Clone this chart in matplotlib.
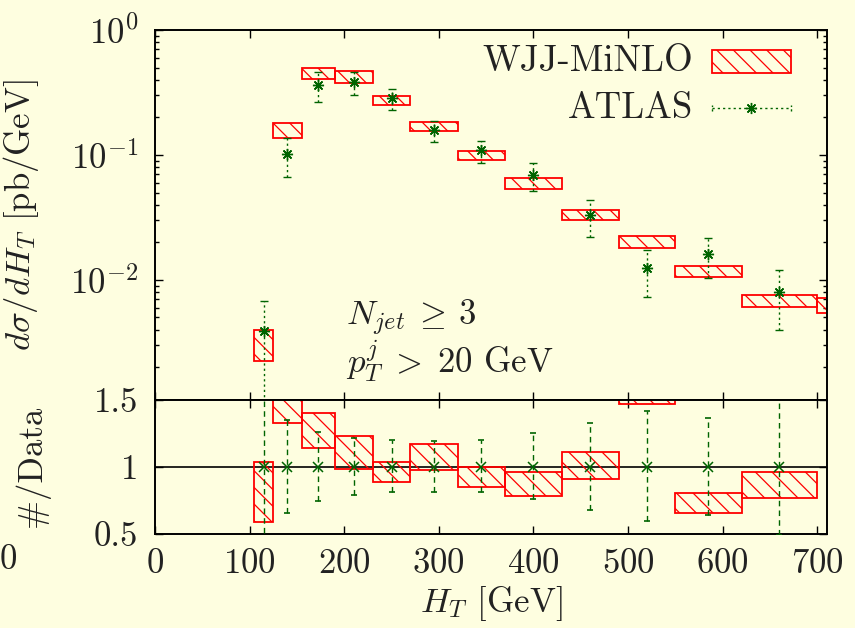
import numpy as np
import matplotlib
matplotlib.use("Agg")
import matplotlib.pyplot as plt
from matplotlib.ticker import FixedLocator, LogLocator, NullFormatter

plt.rcParams['font.family'] = ['cmr10', 'DejaVu Serif']
plt.rcParams['mathtext.fontset'] = 'cm'
plt.rcParams['axes.formatter.use_mathtext'] = True
plt.rcParams['hatch.linewidth'] = 0.9

# bin edges in H_T [GeV]
edges = [105, 125, 155, 190, 230, 270, 320, 370, 430, 490, 550, 620, 700, 800]

# WJJ-MiNLO band, pb/GeV
minlo_lo = [2.25e-3, 0.136, 0.407, 0.378, 0.250, 0.155, 0.0907, 0.0537, 0.0299, 0.01806, 0.01045, 0.00604, 0.0054]
minlo_hi = [4.0e-3, 0.1795, 0.501, 0.472, 0.294, 0.184, 0.1077, 0.0658, 0.0364, 0.02254, 0.0128, 0.00754, 0.00718]

# ATLAS data, pb/GeV
atlas = [3.9e-3, 0.102, 0.360, 0.385, 0.283, 0.159, 0.109, 0.069, 0.0332, 0.01234, 0.0161, 0.00796]
atlas_hi = [6.8e-3, 0.137, 0.457, 0.463, 0.340, 0.188, 0.130, 0.0858, 0.0436, 0.0173, 0.0217, 0.01197]
atlas_lo = [1e-5, 0.067, 0.267, 0.303, 0.230, 0.128, 0.0868, 0.0517, 0.0221, 0.0073, 0.01026, 0.00393]

# ratio panel: MiNLO / data band and data relative errors
ratio_lo = [0.587, 1.323, 1.14, 0.983, 0.883, 0.975, 0.846, 0.781, 0.908, 1.47, 0.654, 0.766]
ratio_hi = [1.035, 1.76, 1.40, 1.231, 1.035, 1.169, 1.0, 0.96, 1.11, 1.83, 0.804, 0.96]
data_rlo = [0.0, 0.654, 0.749, 0.79, 0.81, 0.81, 0.81, 0.759, 0.681, 0.595, 0.644, 0.49]
data_rhi = [1.74, 1.345, 1.256, 1.211, 1.196, 1.19, 1.196, 1.249, 1.326, 1.413, 1.36, 1.52]

xticks = [0, 100, 200, 300, 400, 500, 600, 700]
rticks = [0.5, 1, 1.5]
rtick_labels = ['0.5', '1', '1.5']

bg = '#fefee0'
green = '#006400'
txt = '#222222'
fs = 25

edges = np.array(edges, dtype=float)
left = edges[:-1]
width = np.diff(edges)
nd = len(atlas)
xc = (left + width / 2)[:nd]

fig = plt.figure(figsize=(8.55, 6.28), dpi=100, facecolor=bg)
ax = fig.add_axes([0.1813, 0.3638, 0.7856, 0.5884])
ax2 = fig.add_axes([0.1813, 0.1497, 0.7856, 0.2141])
for a in (ax, ax2):
    a.set_facecolor(bg)
    for s in a.spines.values():
        s.set_linewidth(1.4)
        s.set_color('black')
    a.tick_params(direction='in', which='both', top=True, right=True,
                  labelsize=fs, labelcolor=txt, width=1.0)
    a.tick_params(which='major', length=6)
    a.tick_params(which='minor', length=3.2)
    a.set_xlim(0, 710)
    a.xaxis.set_major_locator(FixedLocator(xticks))

# upper panel
ax.set_yscale('log')
ax.set_ylim(1.1e-3, 1)
ax.yaxis.set_major_locator(LogLocator(base=10, numticks=10))
ax.yaxis.set_minor_locator(LogLocator(base=10, subs=np.arange(2, 10), numticks=10))
ax.yaxis.set_minor_formatter(NullFormatter())
ax.tick_params(labelbottom=False, pad=12)

mlo = np.array(minlo_lo)
mhi = np.array(minlo_hi)
ax.bar(left, mhi - mlo, bottom=mlo, width=width, align='edge', fill=False,
       edgecolor='red', hatch='\\\\', linewidth=1.3, zorder=2)

a_c = np.array(atlas)
eb = ax.errorbar(xc, a_c, yerr=[a_c - np.array(atlas_lo), np.array(atlas_hi) - a_c],
                 fmt='none', ecolor=green, elinewidth=1.0, capsize=3, capthick=1.0, zorder=3)
eb[2][0].set_linestyle((0, (1.6, 2.2)))
ax.plot(xc, a_c, linestyle='none', marker=(8, 2, 0), ms=8, mew=1.0, color=green, zorder=4)

# legend drawn by hand
lfs = 26.5
ax.text(0.801, 0.916, 'WJJ-MiNLO', transform=ax.transAxes, ha='right', va='center',
        fontsize=lfs, color=txt)
ax.text(0.801, 0.788, 'ATLAS', transform=ax.transAxes, ha='right', va='center',
        fontsize=lfs, color=txt)
ax.add_patch(plt.Rectangle((0.8297, 0.8828), 0.1176, 0.0631, transform=ax.transAxes,
                           fill=False, edgecolor='red', hatch='\\\\', linewidth=1.3))
ax.plot([0.8297, 0.9473], [0.788, 0.788], transform=ax.transAxes, color=green,
        lw=1.0, linestyle=(0, (1.6, 2.2)))
for xe in (0.8297, 0.9473):
    ax.plot([xe, xe], [0.780, 0.796], transform=ax.transAxes, color=green,
            lw=1.0, linestyle=(0, (1.6, 1.6)))
ax.plot([0.888], [0.788], transform=ax.transAxes, linestyle='none', marker=(8, 2, 0),
        ms=8, mew=1.0, color=green)

ax.text(0.2845, 0.2206, r'$N_{jet}\:\geq\:3$', transform=ax.transAxes, ha='left',
        va='center', fontsize=fs, color=txt)
ax.text(0.2845, 0.1023, r'$p_T^j\;>\;20$ GeV', transform=ax.transAxes, ha='left',
        va='center', fontsize=fs, color=txt)

ax.set_ylabel(r'$d\sigma/dH_T$ [pb/GeV]', fontsize=fs, color=txt)
ax.yaxis.set_label_coords(-0.170, 0.5)

# ratio panel
ax2.set_ylim(0.5, 1.5)
ax2.yaxis.set_major_locator(FixedLocator(rticks))
ax2.set_yticklabels(rtick_labels)
ax2.tick_params(axis='y', pad=12)
ax2.tick_params(axis='x', pad=10)
ax2.axhline(1, color='black', lw=1.2, zorder=1)

rlo = np.array(ratio_lo)
rhi = np.array(ratio_hi)
ax2.bar(left[:nd], rhi - rlo, bottom=rlo, width=width[:nd], align='edge', fill=False,
        edgecolor='red', hatch='\\\\', linewidth=1.3, zorder=2)

ones = np.ones(nd)
eb2 = ax2.errorbar(xc, ones, yerr=[ones - np.array(data_rlo), np.array(data_rhi) - ones],
                   fmt='none', ecolor=green, elinewidth=1.0, capsize=2, capthick=1.2, zorder=3)
eb2[2][0].set_linestyle((0, (4, 3)))
ax2.plot(xc, ones, linestyle='none', marker='x', ms=7, mew=1.1, color=green, zorder=4)

ax2.set_ylabel('#/Data', fontsize=fs, color=txt)
ax2.yaxis.set_label_coords(-0.156, 0.5)
ax2.set_xlabel(r'$H_T$ [GeV]', fontsize=fs, color=txt)
ax2.xaxis.set_label_coords(0.5, -0.515)
ax2.xaxis.label.set_va('center')

# stray clipped tick label at the far left of the original figure
fig.text(0.0, 1 - 560 / 628, '0', ha='left', va='center', fontsize=fs, color=txt)

fig.savefig('out.png', dpi=100, facecolor=bg)
